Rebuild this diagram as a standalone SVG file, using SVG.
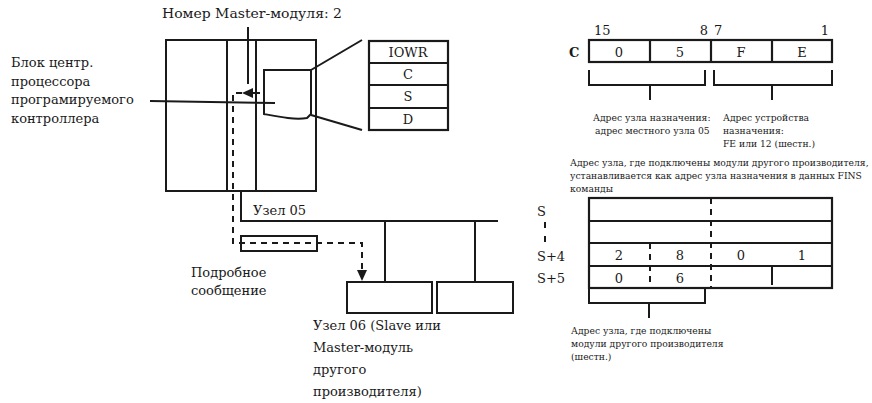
<svg xmlns="http://www.w3.org/2000/svg" width="872" height="403" viewBox="0 0 872 403">
<defs>
<style>
.ln{fill:none;stroke:#1a1a1a;stroke-width:2}
.th{fill:none;stroke:#1a1a1a;stroke-width:2.2}
.ds{fill:none;stroke:#1a1a1a;stroke-width:2;stroke-dasharray:6 5}
.t{font-family:"DejaVu Serif","Liberation Serif",serif;font-size:13px;fill:#1a1a1a}
.c{font-family:"DejaVu Serif","Liberation Serif",serif;font-size:13px;fill:#1a1a1a;text-anchor:middle}
.s{font-family:"DejaVu Serif","Liberation Serif",serif;font-size:9.2px;fill:#1a1a1a}
.b{font-family:"DejaVu Serif","Liberation Serif",serif;font-size:13px;font-weight:bold;fill:#1a1a1a}
</style>
</defs>
<rect width="872" height="403" fill="#ffffff"/>

<g id="cpu-unit">
<rect class="ln" x="166" y="40" width="150" height="151"/>
<line class="ln" x1="227" y1="40" x2="227" y2="191"/>
<line class="ln" x1="256" y1="40" x2="256" y2="191"/>
<path class="ln" d="M311,70 L264,70 L264,114 C280,117 295,120 307,118 L311,114 Z"/>
</g>

<g id="iowr-table">
<rect class="th" x="369" y="41" width="79" height="89"/>
<line class="th" x1="369" y1="63" x2="448" y2="63"/>
<line class="th" x1="369" y1="85" x2="448" y2="85"/>
<line class="th" x1="369" y1="108" x2="448" y2="108"/>
<text class="c" x="408" y="57">IOWR</text>
<text class="c" x="408" y="79">C</text>
<text class="c" x="408" y="101">S</text>
<text class="c" x="408" y="124">D</text>
</g>

<g id="node06">
<rect class="ln" x="347" y="282" width="85" height="31"/>
</g>
<g id="node-other">
<rect class="ln" x="437" y="282" width="76" height="31"/>
</g>
<g id="message">
<rect class="ln" x="241" y="236" width="76" height="15"/>
</g>

<g id="connectors">
<line class="ln" x1="311" y1="70" x2="362" y2="40"/>
<line class="ln" x1="311" y1="115" x2="362" y2="130"/>
<line class="ln" x1="150" y1="101" x2="275" y2="103"/>
<line class="ln" x1="248" y1="27" x2="248" y2="84"/>
<line class="ln" x1="260" y1="93" x2="250" y2="93"/>
<polygon points="242,93 253,88 253,98" fill="#1a1a1a"/>
<path class="ds" d="M242,93 H233 V243 H362 V272"/>
<polygon points="362,281 357,270 367,270" fill="#1a1a1a"/>
<path class="ln" d="M241,191 V221 H498"/>
<line class="ln" x1="385" y1="221" x2="385" y2="282"/>
<line class="ln" x1="475" y1="221" x2="475" y2="282"/>
</g>

<g id="labels-left">
<text class="t" x="162" y="18" textLength="180" lengthAdjust="spacingAndGlyphs">Номер Master-модуля: 2</text>
<text class="t" x="11" y="67">Блок центр.</text>
<text class="t" x="11" y="86">процессора</text>
<text class="t" x="11" y="104">програмируемого</text>
<text class="t" x="11" y="123">контроллера</text>
<text class="t" x="253" y="215">Узел 05</text>
<text class="t" x="191" y="277">Подробное</text>
<text class="t" x="191" y="295">сообщение</text>
<text class="t" x="313" y="330">Узел 06 (Slave или</text>
<text class="t" x="313" y="352">Master-модуль</text>
<text class="t" x="313" y="374">другого</text>
<text class="t" x="313" y="396">производителя)</text>
</g>

<g id="c-word">
<text class="b" x="569" y="57">C</text>
<text class="t" x="594" y="35">15</text>
<text class="t" x="708" y="35" text-anchor="end">8</text>
<text class="t" x="714" y="35">7</text>
<text class="t" x="829" y="35" text-anchor="end">1</text>
<rect class="th" x="589" y="40" width="243" height="22"/>
<line class="th" x1="650" y1="40" x2="650" y2="62"/>
<line class="th" x1="711" y1="40" x2="711" y2="62"/>
<line class="th" x1="772" y1="40" x2="772" y2="62"/>
<text class="c" x="619" y="57">0</text>
<text class="c" x="680" y="57">5</text>
<text class="c" x="741" y="57">F</text>
<text class="c" x="802" y="57">E</text>
<path class="ln" d="M589,70 V85 H705 V70"/>
<line class="ln" x1="650" y1="85" x2="650" y2="100"/>
<path class="ln" d="M714,70 V85 H832 V70"/>
<line class="ln" x1="772" y1="85" x2="772" y2="100"/>
<text class="s" x="593" y="121">Адрес узла назначения:</text>
<text class="s" x="595" y="134">адрес местного узла 05</text>
<text class="s" x="723" y="121">Адрес устройства</text>
<text class="s" x="723" y="134">назначения:</text>
<text class="s" x="723" y="147">FE или 12 (шестн.)</text>
<text class="s" x="570" y="166">Адрес узла, где подключены модули другого производителя,</text>
<text class="s" x="570" y="179">устанавливается как адрес узла назначения в данных FINS</text>
<text class="s" x="570" y="192">команды</text>
</g>

<g id="s-words">
<text class="t" x="537" y="216">S</text>
<line class="ln" x1="545" y1="222" x2="545" y2="228"/>
<line class="ln" x1="545" y1="236" x2="545" y2="242"/>
<text class="t" x="537" y="261">S+4</text>
<text class="t" x="537" y="283">S+5</text>
<rect class="th" x="589" y="198" width="243" height="90"/>
<line class="th" x1="589" y1="221" x2="832" y2="221"/>
<line class="th" x1="589" y1="243" x2="832" y2="243"/>
<line class="th" x1="589" y1="266" x2="832" y2="266"/>
<line class="ds" x1="711" y1="198" x2="711" y2="288"/>
<line class="ds" x1="650" y1="243" x2="650" y2="288"/>
<line class="ln" x1="772" y1="266" x2="772" y2="285"/>
<text class="c" x="619" y="260">2</text>
<text class="c" x="680" y="260">8</text>
<text class="c" x="741" y="260">0</text>
<text class="c" x="802" y="260">1</text>
<text class="c" x="619" y="283">0</text>
<text class="c" x="680" y="283">6</text>
<path class="ln" d="M589,288 V303 H705 V288"/>
<line class="ln" x1="649" y1="303" x2="649" y2="318"/>
<text class="s" x="571" y="334">Адрес узла, где подключены</text>
<text class="s" x="571" y="347">модули другого производителя</text>
<text class="s" x="571" y="360">(шестн.)</text>
</g>
</svg>
